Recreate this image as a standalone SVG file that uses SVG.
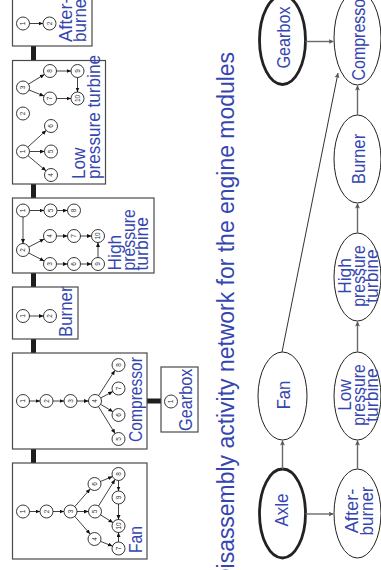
<svg xmlns="http://www.w3.org/2000/svg" width="381" height="570" viewBox="0 0 381 570">
<style>
.box{fill:#fff;stroke:#4a4a4a;stroke-width:1.2}
.bar{fill:#1e1e1e}
.sn circle{fill:#fff;stroke:#222;stroke-width:0.9}
.sn text{font-family:"Liberation Sans",Arial,sans-serif;font-size:6.5px;fill:#333;text-anchor:middle}
.lbl{font-family:"Liberation Sans",Arial,sans-serif;font-size:18.5px;fill:#3546b0}
.mid{text-anchor:middle}
.ie{stroke:#111;stroke-width:0.8;fill:none;marker-end:url(#ah)}
.oe{stroke:#6a6a6a;stroke-width:1.4;fill:none;marker-end:url(#ah2)}
.ell{fill:#fff;stroke:#222;stroke-width:1}
.thick{stroke-width:2.8}
.title{font-family:"Liberation Sans",Arial,sans-serif;font-size:23.5px;fill:#3546b0;text-anchor:end}
</style>
<defs>
<marker id="ah" markerUnits="userSpaceOnUse" markerWidth="6" markerHeight="5" refX="4.5" refY="2" orient="auto"><path d="M0,0 L4.5,2 L0,4 z" fill="#111"/></marker>
<marker id="ah2" markerUnits="userSpaceOnUse" markerWidth="7" markerHeight="6" refX="5" refY="2.5" orient="auto"><path d="M0,0 L5,2.5 L0,5 L1.2,2.5 z" fill="#555"/></marker>
</defs>
<rect width="381" height="570" fill="#fff"/>

<text class="title" transform="translate(234,52) rotate(-90)" textLength="533" lengthAdjust="spacingAndGlyphs">Disassembly activity network for the engine modules</text>

<!-- bars between modules -->
<g id="bars">
<rect class="bar" x="31" y="46" width="5" height="14.5"/>
<rect class="bar" x="31" y="184" width="5" height="14"/>
<rect class="bar" x="31" y="273" width="5" height="14"/>
<rect class="bar" x="31" y="339" width="5" height="14"/>
<rect class="bar" x="31" y="449" width="5" height="14"/>
<rect class="bar" x="147" y="398.5" width="14" height="5"/>
</g>

<!-- module boxes -->
<g id="box-afterburner">
<rect class="box" x="12.5" y="-5" width="79.5" height="51"/>
<text class="lbl" transform="translate(72,42) rotate(-90)" textLength="44.6" lengthAdjust="spacingAndGlyphs">After-</text>
<text class="lbl" transform="translate(86,42) rotate(-90)" textLength="48.8" lengthAdjust="spacingAndGlyphs">burner</text>
<g id="ab-n1" class="sn"><circle cx="23" cy="23.5" r="6.5"/><text transform="translate(25.3,23.5) rotate(-90)">1</text></g>
<g id="ab-n2" class="sn"><circle cx="49.5" cy="23.5" r="6.5"/><text transform="translate(51.8,23.5) rotate(-90)">2</text></g>
</g>

<g id="box-lpt">
<rect class="box" x="12.5" y="60.5" width="93" height="123.5"/>
<text class="lbl" transform="translate(85,179) rotate(-90)" textLength="31.4" lengthAdjust="spacingAndGlyphs">Low</text>
<text class="lbl" transform="translate(99.5,179) rotate(-90)" textLength="124" lengthAdjust="spacingAndGlyphs">pressure turbine</text>
<g id="lpt-n1" class="sn"><circle cx="23" cy="151.5" r="6.5"/><text transform="translate(25.3,151.5) rotate(-90)">1</text></g>
<g id="lpt-n2" class="sn"><circle cx="23" cy="113.5" r="6.5"/><text transform="translate(25.3,113.5) rotate(-90)">2</text></g>
<g id="lpt-n3" class="sn"><circle cx="23" cy="87.5" r="6.5"/><text transform="translate(25.3,87.5) rotate(-90)">3</text></g>
<g id="lpt-n4" class="sn"><circle cx="51" cy="175" r="6.5"/><text transform="translate(53.3,175) rotate(-90)">4</text></g>
<g id="lpt-n5" class="sn"><circle cx="51" cy="151.5" r="6.5"/><text transform="translate(53.3,151.5) rotate(-90)">5</text></g>
<g id="lpt-n6" class="sn"><circle cx="51" cy="126" r="6.5"/><text transform="translate(53.3,126) rotate(-90)">6</text></g>
<g id="lpt-n7" class="sn"><circle cx="50" cy="98.5" r="6.5"/><text transform="translate(52.3,98.5) rotate(-90)">7</text></g>
<g id="lpt-n8" class="sn"><circle cx="50" cy="71" r="6.5"/><text transform="translate(52.3,71) rotate(-90)">8</text></g>
<g id="lpt-n9" class="sn"><circle cx="77.5" cy="71" r="6.5"/><text transform="translate(79.8,71) rotate(-90)">9</text></g>
<g id="lpt-n10" class="sn"><circle cx="77.5" cy="98.5" r="6.5"/><text transform="translate(79.8,98.5) rotate(-90)">10</text></g>
</g>

<g id="box-hpt">
<rect class="box" x="12.5" y="198" width="141.5" height="75"/>
<text class="lbl" transform="translate(120.5,270.5) rotate(-90)" textLength="35.7" lengthAdjust="spacingAndGlyphs">High</text>
<text class="lbl" transform="translate(134.5,270.5) rotate(-90)" textLength="61.3" lengthAdjust="spacingAndGlyphs">pressure</text>
<text class="lbl" transform="translate(148,270.5) rotate(-90)" textLength="53.5" lengthAdjust="spacingAndGlyphs">turbine</text>
<g id="hpt-n1" class="sn"><circle cx="23" cy="210.5" r="6.5"/><text transform="translate(25.3,210.5) rotate(-90)">1</text></g>
<g id="hpt-n2" class="sn"><circle cx="23" cy="250" r="6.5"/><text transform="translate(25.3,250) rotate(-90)">2</text></g>
<g id="hpt-n3" class="sn"><circle cx="50" cy="264" r="6.5"/><text transform="translate(52.3,264) rotate(-90)">3</text></g>
<g id="hpt-n4" class="sn"><circle cx="50" cy="236" r="6.5"/><text transform="translate(52.3,236) rotate(-90)">4</text></g>
<g id="hpt-n5" class="sn"><circle cx="50.5" cy="210.5" r="6.5"/><text transform="translate(52.8,210.5) rotate(-90)">5</text></g>
<g id="hpt-n6" class="sn"><circle cx="74" cy="264" r="6.5"/><text transform="translate(76.3,264) rotate(-90)">6</text></g>
<g id="hpt-n7" class="sn"><circle cx="74" cy="236" r="6.5"/><text transform="translate(76.3,236) rotate(-90)">7</text></g>
<g id="hpt-n8" class="sn"><circle cx="74" cy="210.5" r="6.5"/><text transform="translate(76.3,210.5) rotate(-90)">8</text></g>
<g id="hpt-n9" class="sn"><circle cx="98" cy="264" r="6.5"/><text transform="translate(100.3,264) rotate(-90)">9</text></g>
<g id="hpt-n10" class="sn"><circle cx="98" cy="236" r="6.5"/><text transform="translate(100.3,236) rotate(-90)">10</text></g>
</g>

<g id="box-burner">
<rect class="box" x="12.5" y="287" width="65.5" height="52"/>
<text class="lbl" transform="translate(72,337) rotate(-90)" textLength="50.5" lengthAdjust="spacingAndGlyphs">Burner</text>
<g id="bu-n1" class="sn"><circle cx="23" cy="316" r="6.5"/><text transform="translate(25.3,316) rotate(-90)">1</text></g>
<g id="bu-n2" class="sn"><circle cx="50" cy="316" r="6.5"/><text transform="translate(52.3,316) rotate(-90)">2</text></g>
</g>

<g id="box-compressor">
<rect class="box" x="12.5" y="353" width="134.5" height="96"/>
<text class="lbl" transform="translate(141.5,442) rotate(-90)" textLength="85" lengthAdjust="spacingAndGlyphs">Compressor</text>
<g id="co-n1" class="sn"><circle cx="23" cy="401" r="6.5"/><text transform="translate(25.3,401) rotate(-90)">1</text></g>
<g id="co-n2" class="sn"><circle cx="46.5" cy="401" r="6.5"/><text transform="translate(48.8,401) rotate(-90)">2</text></g>
<g id="co-n3" class="sn"><circle cx="70.5" cy="401" r="6.5"/><text transform="translate(72.8,401) rotate(-90)">3</text></g>
<g id="co-n4" class="sn"><circle cx="95" cy="401" r="6.5"/><text transform="translate(97.3,401) rotate(-90)">4</text></g>
<g id="co-n5" class="sn"><circle cx="118.5" cy="439" r="6.5"/><text transform="translate(120.8,439) rotate(-90)">5</text></g>
<g id="co-n6" class="sn"><circle cx="118.5" cy="415" r="6.5"/><text transform="translate(120.8,415) rotate(-90)">6</text></g>
<g id="co-n7" class="sn"><circle cx="118.5" cy="388.5" r="6.5"/><text transform="translate(120.8,388.5) rotate(-90)">7</text></g>
<g id="co-n8" class="sn"><circle cx="118.5" cy="365" r="6.5"/><text transform="translate(120.8,365) rotate(-90)">8</text></g>
</g>

<g id="box-gearbox">
<rect class="box" x="161" y="367" width="37" height="65"/>
<text class="lbl" transform="translate(192,431) rotate(-90)" textLength="62.5" lengthAdjust="spacingAndGlyphs">Gearbox</text>
<g id="gb-n1" class="sn"><circle cx="171" cy="401.5" r="6.5"/><text transform="translate(173.3,401.5) rotate(-90)">1</text></g>
</g>

<g id="box-fan">
<rect class="box" x="12.5" y="463" width="134.5" height="96"/>
<text class="lbl" transform="translate(141.5,553) rotate(-90)" textLength="27" lengthAdjust="spacingAndGlyphs">Fan</text>
<g id="fan-n1" class="sn"><circle cx="23" cy="511.5" r="6.5"/><text transform="translate(25.3,511.5) rotate(-90)">1</text></g>
<g id="fan-n2" class="sn"><circle cx="46.5" cy="511.5" r="6.5"/><text transform="translate(48.8,511.5) rotate(-90)">2</text></g>
<g id="fan-n3" class="sn"><circle cx="70.5" cy="511.5" r="6.5"/><text transform="translate(72.8,511.5) rotate(-90)">3</text></g>
<g id="fan-n4" class="sn"><circle cx="94.5" cy="539" r="6.5"/><text transform="translate(96.8,539) rotate(-90)">4</text></g>
<g id="fan-n5" class="sn"><circle cx="95" cy="511.5" r="6.5"/><text transform="translate(97.3,511.5) rotate(-90)">5</text></g>
<g id="fan-n6" class="sn"><circle cx="94.5" cy="484" r="6.5"/><text transform="translate(96.8,484) rotate(-90)">6</text></g>
<g id="fan-n7" class="sn"><circle cx="118.5" cy="548.5" r="6.5"/><text transform="translate(120.8,548.5) rotate(-90)">7</text></g>
<g id="fan-n8" class="sn"><circle cx="118.5" cy="474" r="6.5"/><text transform="translate(120.8,474) rotate(-90)">8</text></g>
<g id="fan-n9" class="sn"><circle cx="118.5" cy="497.5" r="6.5"/><text transform="translate(120.8,497.5) rotate(-90)">9</text></g>
<g id="fan-n10" class="sn"><circle cx="118.5" cy="526" r="6.5"/><text transform="translate(120.8,526) rotate(-90)">10</text></g>
</g>

<!-- module-level graph nodes -->
<g id="m-gearbox"><ellipse class="ell thick" cx="282.5" cy="40" rx="23" ry="44.5"/><text class="lbl mid" transform="translate(290,37.5) rotate(-90)" textLength="62" lengthAdjust="spacingAndGlyphs">Gearbox</text></g>
<g id="m-compressor"><ellipse class="ell" cx="357.5" cy="38" rx="23.5" ry="47"/><text class="lbl mid" transform="translate(365,37) rotate(-90)" textLength="87" lengthAdjust="spacingAndGlyphs">Compressor</text></g>
<g id="m-burner"><ellipse class="ell" cx="357.5" cy="159" rx="23.5" ry="44"/><text class="lbl mid" transform="translate(365,159) rotate(-90)" textLength="50.5" lengthAdjust="spacingAndGlyphs">Burner</text></g>
<g id="m-hpt"><ellipse class="ell" cx="357.5" cy="277" rx="23.5" ry="44"/>
<text class="lbl mid" transform="translate(351,276) rotate(-90)" textLength="35.7" lengthAdjust="spacingAndGlyphs">High</text>
<text class="lbl mid" transform="translate(364.5,276) rotate(-90)" textLength="61.3" lengthAdjust="spacingAndGlyphs">pressure</text>
<text class="lbl mid" transform="translate(378,276) rotate(-90)" textLength="53.5" lengthAdjust="spacingAndGlyphs">turbine</text></g>
<g id="m-lpt"><ellipse class="ell" cx="357.5" cy="396" rx="23.5" ry="44"/>
<text class="lbl mid" transform="translate(351,395) rotate(-90)" textLength="31.4" lengthAdjust="spacingAndGlyphs">Low</text>
<text class="lbl mid" transform="translate(364.5,395) rotate(-90)" textLength="61.3" lengthAdjust="spacingAndGlyphs">pressure</text>
<text class="lbl mid" transform="translate(378,395) rotate(-90)" textLength="53.5" lengthAdjust="spacingAndGlyphs">turbine</text></g>
<g id="m-afterburner"><ellipse class="ell" cx="357.5" cy="513.5" rx="23.5" ry="44.5"/>
<text class="lbl mid" transform="translate(358,511) rotate(-90)" textLength="44.6" lengthAdjust="spacingAndGlyphs">After-</text>
<text class="lbl mid" transform="translate(373,511) rotate(-90)" textLength="48.8" lengthAdjust="spacingAndGlyphs">burner</text></g>
<g id="m-fan"><ellipse class="ell" cx="282.5" cy="396" rx="24.5" ry="44"/><text class="lbl mid" transform="translate(290,395) rotate(-90)" textLength="28.5" lengthAdjust="spacingAndGlyphs">Fan</text></g>
<g id="m-axle"><ellipse class="ell thick" cx="282.5" cy="513.5" rx="23" ry="44.5"/><text class="lbl mid" transform="translate(287.5,510) rotate(-90)" textLength="33" lengthAdjust="spacingAndGlyphs">Axle</text></g>

<g id="connectors">
<!-- after-burner -->
<line class="ie" x1="29.5" y1="23.5" x2="43" y2="23.5"/>
<!-- LPT -->
<line class="ie" x1="28" y1="155.7" x2="46" y2="170.8"/>
<line class="ie" x1="29.5" y1="151.5" x2="44.5" y2="151.5"/>
<line class="ie" x1="27.8" y1="147.1" x2="46.2" y2="130.4"/>
<line class="ie" x1="28.6" y1="84.1" x2="44.4" y2="74.4"/>
<line class="ie" x1="29" y1="90" x2="44" y2="96"/>
<line class="ie" x1="56.5" y1="71" x2="71" y2="71"/>
<line class="ie" x1="77.5" y1="77.5" x2="77.5" y2="92"/>
<line class="ie" x1="56.5" y1="98.5" x2="71" y2="98.5"/>
<!-- HPT -->
<line class="ie" x1="29.5" y1="210.5" x2="44" y2="210.5"/>
<line class="ie" x1="57" y1="210.5" x2="67.5" y2="210.5"/>
<line class="ie" x1="23" y1="217" x2="23" y2="243.5"/>
<line class="ie" x1="28.8" y1="247" x2="44.2" y2="239"/>
<line class="ie" x1="28.8" y1="253" x2="44.2" y2="261"/>
<line class="ie" x1="56.5" y1="236" x2="67.5" y2="236"/>
<line class="ie" x1="80.5" y1="236" x2="91.5" y2="236"/>
<line class="ie" x1="56.5" y1="264" x2="67.5" y2="264"/>
<line class="ie" x1="80.5" y1="264" x2="91.5" y2="264"/>
<line class="ie" x1="98" y1="257.5" x2="98" y2="242.5"/>
<!-- burner -->
<line class="ie" x1="29.5" y1="316" x2="43.5" y2="316"/>
<!-- compressor -->
<line class="ie" x1="29.5" y1="401" x2="40" y2="401"/>
<line class="ie" x1="53" y1="401" x2="64" y2="401"/>
<line class="ie" x1="77" y1="401" x2="88.5" y2="401"/>
<line class="ie" x1="98.6" y1="395.6" x2="114.9" y2="370.4"/>
<line class="ie" x1="100.7" y1="397.9" x2="112.8" y2="391.6"/>
<line class="ie" x1="100.6" y1="404.3" x2="112.9" y2="411.7"/>
<line class="ie" x1="98.4" y1="406.5" x2="115.1" y2="433.5"/>
<!-- fan -->
<line class="ie" x1="29.5" y1="511.5" x2="40" y2="511.5"/>
<line class="ie" x1="53" y1="511.5" x2="64" y2="511.5"/>
<line class="ie" x1="74.8" y1="506.6" x2="90.2" y2="488.9"/>
<line class="ie" x1="77" y1="511.5" x2="88.5" y2="511.5"/>
<line class="ie" x1="74.8" y1="516.4" x2="90.2" y2="534.1"/>
<line class="ie" x1="100.5" y1="481.5" x2="112.5" y2="476.5"/>
<line class="ie" x1="98.5" y1="506" x2="115" y2="479.5"/>
<line class="ie" x1="100.5" y1="514.9" x2="113" y2="522.6"/>
<line class="ie" x1="118.5" y1="480.5" x2="118.5" y2="491"/>
<line class="ie" x1="118.5" y1="504" x2="118.5" y2="519.5"/>
<line class="ie" x1="100.5" y1="541.4" x2="112.5" y2="546.1"/>
<line class="ie" x1="118.5" y1="542" x2="118.5" y2="532.5"/>
<!-- module graph -->
<line class="oe" x1="305.5" y1="41.5" x2="333.5" y2="41.5"/>
<line class="oe" x1="357.5" y1="115" x2="357.5" y2="85.5"/>
<line class="oe" x1="357.5" y1="233" x2="357.5" y2="203.5"/>
<line class="oe" x1="357.5" y1="352" x2="357.5" y2="321.5"/>
<line class="oe" x1="357.5" y1="469" x2="357.5" y2="440.5"/>
<line class="oe" x1="305.5" y1="514" x2="333.5" y2="514"/>
<line class="oe" x1="282.5" y1="469" x2="282.5" y2="440.5"/>
<line class="oe" x1="282" y1="352" x2="338" y2="73" style="stroke:#333;stroke-width:1"/>
</g>
</svg>
